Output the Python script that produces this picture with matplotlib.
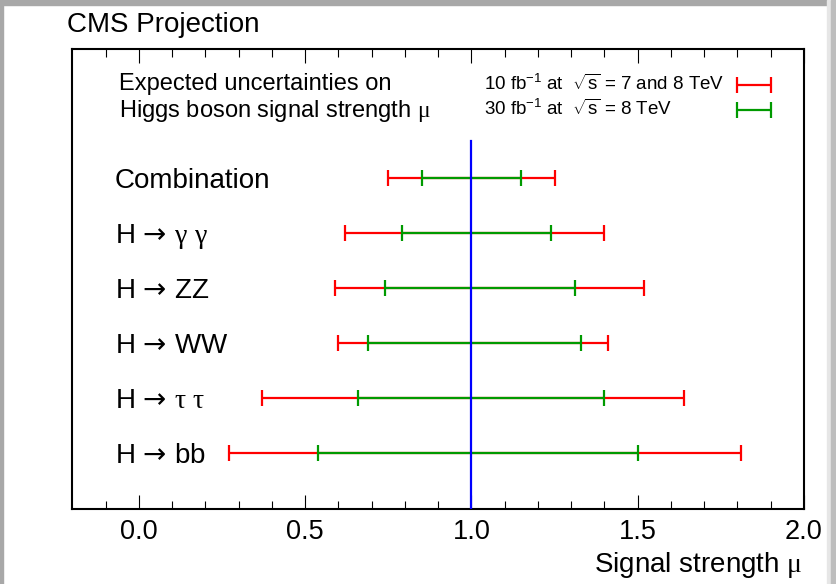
import numpy as np
import matplotlib
matplotlib.use('Agg')
import matplotlib.pyplot as plt
import matplotlib.transforms as mtransforms
from matplotlib.patches import Rectangle

plt.rcParams['font.family'] = ['Liberation Sans', 'DejaVu Sans']
plt.rcParams['mathtext.fontset'] = 'custom'
plt.rcParams['mathtext.rm'] = 'Liberation Sans'
plt.rcParams['mathtext.it'] = 'Liberation Serif'   # greek letters look like Symbol font
plt.rcParams['mathtext.sf'] = 'DejaVu Sans'        # used for the arrow

arrow = r'$\,\mathsf{\rightarrow}\,$'
# channels, top to bottom
channels = ['Combination', 'H' + arrow + r'$\gamma$ $\gamma$', 'H' + arrow + 'ZZ',
            'H' + arrow + 'WW', 'H' + arrow + r'$\tau$ $\tau$', 'H' + arrow + 'bb']
mu = [1.0, 1.0, 1.0, 1.0, 1.0, 1.0]
# 10 fb-1 at 7 and 8 TeV (red)
lo_10 = [0.75, 0.62, 0.59, 0.60, 0.37, 0.27]
hi_10 = [1.25, 1.40, 1.52, 1.41, 1.64, 1.81]
# 30 fb-1 at 8 TeV (green)
lo_30 = [0.85, 0.79, 0.74, 0.69, 0.66, 0.54]
hi_30 = [1.15, 1.24, 1.31, 1.33, 1.40, 1.50]

red = '#ff0000'
green = '#009a00'
blue = '#0000ff'

fig = plt.figure(figsize=(8.36, 5.84), dpi=100)
ax = fig.add_axes([0.0865, 0.1279, 0.8752, 0.7882])

ypos = np.arange(len(channels), 0, -1)
mu = np.array(mu)

ax.errorbar(mu, ypos, xerr=[mu - np.array(lo_10), np.array(hi_10) - mu], fmt='none',
            ecolor=red, elinewidth=1.6, capsize=6, capthick=1.6, zorder=2)
ax.errorbar(mu, ypos, xerr=[mu - np.array(lo_30), np.array(hi_30) - mu], fmt='none',
            ecolor=green, elinewidth=1.6, capsize=6, capthick=1.6, zorder=3)
ax.plot([1.0, 1.0], [-0.1, 6.67], color=blue, lw=1.6, zorder=4)

trans = mtransforms.blended_transform_factory(ax.transAxes, ax.transData)
for y, name in zip(ypos, channels):
    ax.text(0.058, y, name, transform=trans, fontsize=20, va='center_baseline', ha='left')

# legend block
ax.text(0.064, 7.745, 'Expected uncertainties on', transform=trans, fontsize=17,
        va='center_baseline')
ax.text(0.064, 7.29, r'Higgs boson signal strength $\mu$', transform=trans, fontsize=17,
        va='center_baseline')
ax.text(0.563, 7.745, r'10 fb$^{-1}$ at  $\sqrt{\mathrm{s}}$ = 7 and 8 TeV', transform=trans,
        fontsize=13.5, va='center_baseline')
ax.text(0.563, 7.29, r'30 fb$^{-1}$ at  $\sqrt{\mathrm{s}}$ = 8 TeV', transform=trans,
        fontsize=13.5, va='center_baseline')
ax.errorbar([1.85], [7.69], xerr=[[0.05], [0.05]], fmt='none', ecolor=red,
            elinewidth=1.6, capsize=5.5, capthick=1.6)
ax.errorbar([1.85], [7.236], xerr=[[0.05], [0.05]], fmt='none', ecolor=green,
            elinewidth=1.6, capsize=5.5, capthick=1.6)

ax.set_xlim(-0.2, 2.0)
ax.set_ylim(-0.024, 8.345)
ax.set_xticks([0.0, 0.5, 1.0, 1.5, 2.0])
ax.set_xticklabels(['0.0', '0.5', '1.0', '1.5', '2.0'])
ax.set_xticks(np.arange(-0.1, 2.0, 0.1), minor=True)
ax.set_yticks([])
ax.tick_params(axis='x', which='both', direction='in', top=True, bottom=True,
               labelsize=19.5, pad=7)
ax.tick_params(axis='x', which='major', length=10, width=0.8)
ax.tick_params(axis='x', which='minor', length=5.5, width=0.8)
for sp in ax.spines.values():
    sp.set_linewidth(1.5)

fig.text(0.9605, 0.020, r'Signal strength $\mu$', fontsize=20, ha='right', va='baseline')
fig.text(0.080, 0.945, 'CMS Projection', fontsize=20, ha='left', va='baseline')

# screenshot frame
fig.patches.append(Rectangle((0, 579 / 584), 1, 5 / 584, transform=fig.transFigure,
                             color='#a8a8a8', zorder=0))
fig.patches.append(Rectangle((0, 0), 3 / 836, 1, transform=fig.transFigure,
                             color='#a8a8a8', zorder=0))
fig.patches.append(Rectangle((827 / 836, 0), 4 / 836, 1, transform=fig.transFigure,
                             color='#e6e6e6', zorder=0))
fig.patches.append(Rectangle((831 / 836, 0), 5 / 836, 1, transform=fig.transFigure,
                             color='#bdbdbd', zorder=0))

fig.savefig('out.png', dpi=100)
